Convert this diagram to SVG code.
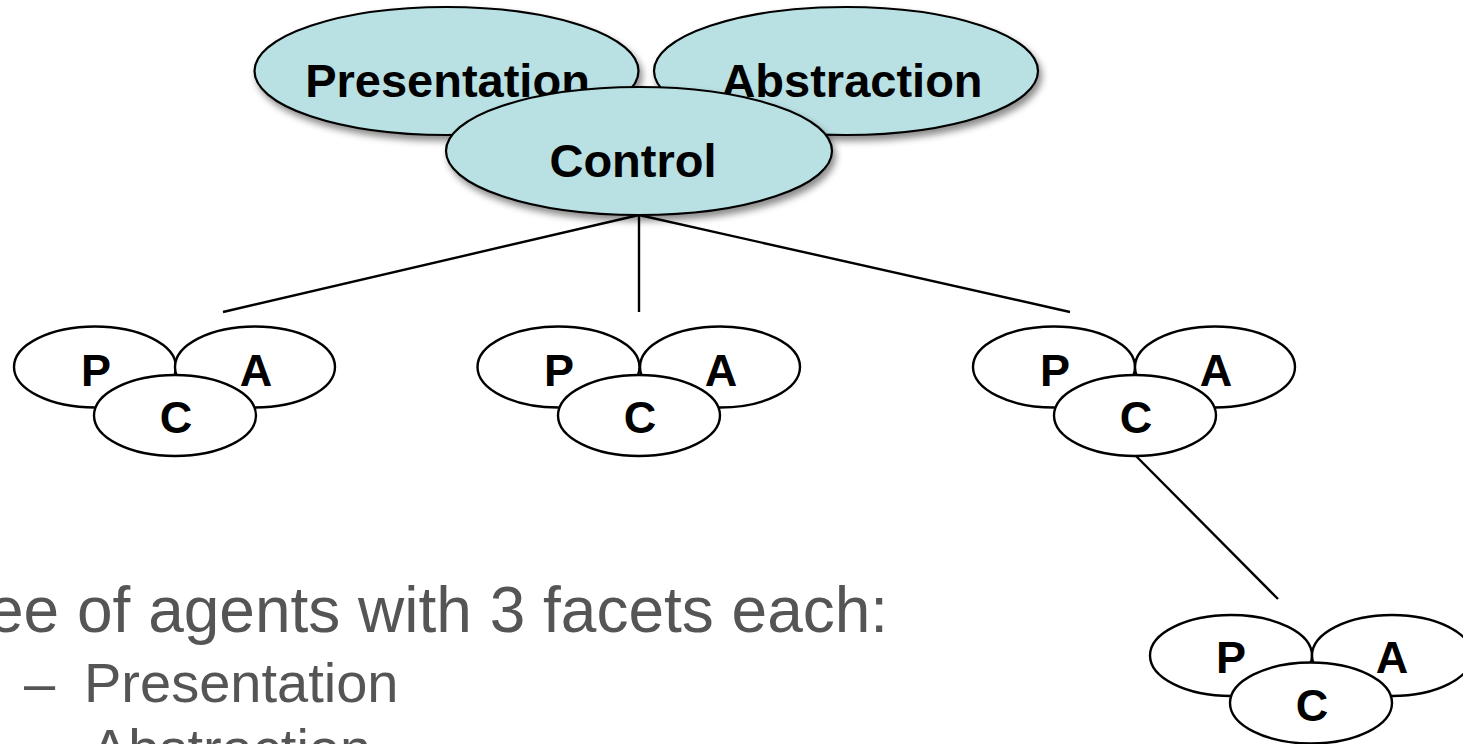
<svg xmlns="http://www.w3.org/2000/svg" width="1463" height="744" viewBox="0 0 1463 744">
  <defs>
    <filter id="shadow" x="-10%" y="-10%" width="125%" height="135%">
      <feDropShadow dx="3" dy="5" stdDeviation="3.5" flood-color="#000" flood-opacity="0.45"/>
    </filter>
    <style>
      .big { fill: #B9E0E3; stroke: #000; stroke-width: 2.2; filter: url(#shadow); }
      .bigtxt { font-family: "Liberation Sans", Arial, sans-serif; font-weight: bold; font-size: 47px; fill: #000; text-anchor: middle; }
      .small { fill: #fff; stroke: #000; stroke-width: 2.4; }
      .smtxt { font-family: "Liberation Sans", Arial, sans-serif; font-weight: bold; font-size: 45px; fill: #000; text-anchor: middle; }
      .conn { stroke: #000; stroke-width: 2.4; fill: none; }
      .body { font-family: "Liberation Sans", Arial, sans-serif; fill: #555555; }
    </style>
  </defs>
  <rect width="1463" height="744" fill="#fff"/>

  <g id="connectors">
    <line class="conn" x1="639" y1="215" x2="223" y2="312"/>
    <line class="conn" x1="639" y1="215" x2="639" y2="312"/>
    <line class="conn" x1="639" y1="215" x2="1070" y2="312"/>
    <line class="conn" x1="1136" y1="456" x2="1278" y2="599"/>
  </g>

  <g id="top-presentation">
    <ellipse class="big" cx="446.5" cy="71" rx="192" ry="64"/>
    <text class="bigtxt" x="447.5" y="97">Presentation</text>
  </g>
  <g id="top-abstraction">
    <ellipse class="big" cx="846" cy="71" rx="192" ry="64"/>
    <text class="bigtxt" x="852" y="97">Abstraction</text>
  </g>
  <g id="top-control">
    <ellipse class="big" cx="639" cy="151" rx="193" ry="64"/>
    <text class="bigtxt" x="633" y="177">Control</text>
  </g>

  <g id="agent1">
    <ellipse class="small" cx="95" cy="367" rx="81" ry="40.5"/>
    <text class="smtxt" x="96" y="386">P</text>
    <ellipse class="small" cx="255" cy="367" rx="80" ry="40.5"/>
    <text class="smtxt" x="256" y="386">A</text>
    <ellipse class="small" cx="175" cy="415.5" rx="81" ry="40.5"/>
    <text class="smtxt" x="176" y="433">C</text>
  </g>

  <g id="agent2">
    <ellipse class="small" cx="558.5" cy="367" rx="81" ry="40.5"/>
    <text class="smtxt" x="559" y="386">P</text>
    <ellipse class="small" cx="720" cy="367" rx="80" ry="40.5"/>
    <text class="smtxt" x="721" y="386">A</text>
    <ellipse class="small" cx="639" cy="415.5" rx="81" ry="40.5"/>
    <text class="smtxt" x="640" y="433">C</text>
  </g>

  <g id="agent3">
    <ellipse class="small" cx="1054" cy="367" rx="81" ry="40.5"/>
    <text class="smtxt" x="1055" y="386">P</text>
    <ellipse class="small" cx="1215" cy="367" rx="80" ry="40.5"/>
    <text class="smtxt" x="1216" y="386">A</text>
    <ellipse class="small" cx="1135" cy="415.5" rx="81" ry="40.5"/>
    <text class="smtxt" x="1136" y="433">C</text>
  </g>

  <g id="agent4">
    <ellipse class="small" cx="1231" cy="655.5" rx="81" ry="40.5"/>
    <text class="smtxt" x="1231" y="673">P</text>
    <ellipse class="small" cx="1392" cy="655.5" rx="80" ry="40.5"/>
    <text class="smtxt" x="1392" y="673">A</text>
    <ellipse class="small" cx="1311" cy="703" rx="81" ry="40.5"/>
    <text class="smtxt" x="1312" y="721">C</text>
  </g>

  <g id="caption">
    <text class="body" x="-12" y="632" font-size="64">ee of agents with 3 facets each:</text>
    <text class="body" x="24" y="702" font-size="56">–</text>
    <text class="body" x="84" y="702" font-size="56">Presentation</text>
    <text class="body" x="91" y="768" font-size="56">Abstraction</text>
  </g>
</svg>
